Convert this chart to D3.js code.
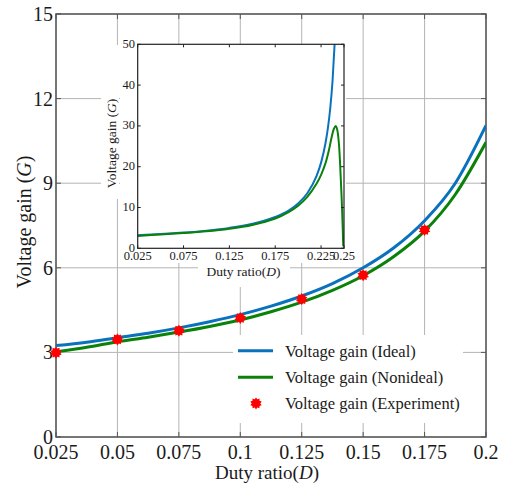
<!DOCTYPE html>
<html><head><meta charset="utf-8">
<script src="https://cdn.jsdelivr.net/npm/d3@7"></script>
<style>
body{margin:0;background:#fff}
svg{display:block}
text{font-family:"Liberation Serif","Times New Roman",serif;fill:#1a1a1a}
</style>
</head><body>
<svg id="c" width="507" height="484"></svg>
<script>
// ---- data ----
const mainD        = [0.025,0.0375,0.05,0.0625,0.075,0.0875,0.1,0.1125,0.125,0.1375,0.15,0.1625,0.175,0.1875,0.2];
const mainIdeal    = [3.24,3.36,3.52,3.68,3.87,4.09,4.34,4.64,5.0,5.44,6.0,6.71,7.67,9.0,11.05];
const mainNonideal = [3.02,3.18,3.38,3.54,3.72,3.92,4.15,4.44,4.78,5.2,5.72,6.4,7.3,8.6,10.45];
const expD = [0.025,0.05,0.075,0.1,0.125,0.15,0.175];
const expG = [2.99,3.46,3.77,4.22,4.89,5.74,7.34];

const insetIdealD = [0.025,0.05,0.075,0.1,0.125,0.15,0.175,0.19,0.2,0.21,0.22,0.225,0.23,0.2325,0.235,0.2375,0.24];
const insetIdealG = [3.22,3.5,3.86,4.33,5.0,6.0,7.67,9.33,11.0,13.5,17.67,21.0,26.0,29.57,34.33,41.0,51.0];
const insetNonD = [0.025,0.05,0.075,0.1,0.125,0.15,0.175,0.19,0.2,0.21,0.22,0.225,0.23,0.2335,0.2365,0.239,0.2409,0.2425,0.2445,0.2465,0.248,0.2492];
const insetNonG = [3.03,3.38,3.72,4.15,4.78,5.72,7.3,8.95,10.45,12.6,15.8,18.0,21.0,24.0,27.2,29.3,30.0,29.2,25.5,17.0,9.0,0.5];

const mainXTicks = [0.025,0.05,0.075,0.1,0.125,0.15,0.175,0.2];
const mainXTickLabels = ["0.025","0.05","0.075","0.1","0.125","0.15","0.175","0.2"];
const mainYTicks = [0,3,6,9,12,15];
const insetXTicks = [0.025,0.075,0.125,0.175,0.225,0.25];
const insetXTickLabels = ["0.025","0.075","0.125","0.175","0.225","0.25"];
const insetYTicks = [0,10,20,30,40,50];
const legendLabels = ["Voltage gain (Ideal)","Voltage gain (Nonideal)","Voltage gain (Experiment)"];

const BLUE = "#0a72bd", GREEN = "#0a820a", RED = "#ff0000";

const svg = d3.select("#c");
svg.append("rect").attr("width",507).attr("height",484).attr("fill","#fff");

// ---- main axes ----
const x = d3.scaleLinear().domain([0.025,0.2]).range([56,486]);
const y = d3.scaleLinear().domain([0,15]).range([437,14]);

const grid = svg.append("g").attr("stroke","#b4b4b4").attr("stroke-width",1);
mainXTicks.forEach(t=>grid.append("line").attr("x1",x(t)).attr("x2",x(t)).attr("y1",y(15)).attr("y2",y(0)));
mainYTicks.forEach(t=>grid.append("line").attr("x1",x(0.025)).attr("x2",x(0.2)).attr("y1",y(t)).attr("y2",y(t)));

// inner ticks
const tk = svg.append("g").attr("stroke","#555").attr("stroke-width",1);
mainXTicks.forEach(t=>{
  tk.append("line").attr("x1",x(t)).attr("x2",x(t)).attr("y1",y(0)).attr("y2",y(0)-5);
  tk.append("line").attr("x1",x(t)).attr("x2",x(t)).attr("y1",y(15)).attr("y2",y(15)+5);
});
mainYTicks.forEach(t=>{
  tk.append("line").attr("x1",x(0.025)).attr("x2",x(0.025)+5).attr("y1",y(t)).attr("y2",y(t));
  tk.append("line").attr("x1",x(0.2)).attr("x2",x(0.2)-5).attr("y1",y(t)).attr("y2",y(t));
});

svg.append("rect").attr("x",x(0.025)).attr("y",y(15)).attr("width",x(0.2)-x(0.025)).attr("height",y(0)-y(15))
  .attr("fill","none").attr("stroke","#555").attr("stroke-width",1.5);

// tick labels
mainXTicks.forEach((t,i)=>svg.append("text").attr("x",x(t)).attr("y",459).attr("text-anchor","middle")
  .attr("font-size",20).text(mainXTickLabels[i]));
mainYTicks.forEach(t=>svg.append("text").attr("x",53).attr("y",y(t)+7).attr("text-anchor","end")
  .attr("font-size",20).text(t));

// axis titles
const xt = svg.append("text").attr("x",267).attr("y",479).attr("text-anchor","middle").attr("font-size",19);
xt.append("tspan").text("Duty ratio(");
xt.append("tspan").attr("font-style","italic").text("D");
xt.append("tspan").text(")");
const yt = svg.append("text").attr("transform","translate(31,222) rotate(-90)").attr("text-anchor","middle").attr("font-size",20);
yt.append("tspan").text("Voltage gain (");
yt.append("tspan").attr("font-style","italic").text("G");
yt.append("tspan").text(")");

// main curves
svg.append("clipPath").attr("id","mclip").append("rect")
  .attr("x",x(0.025)).attr("y",y(15)).attr("width",x(0.2)-x(0.025)).attr("height",y(0)-y(15));
const mline = d3.line().x(d=>x(d[0])).y(d=>y(d[1])).curve(d3.curveMonotoneX);
const mc = svg.append("g").attr("clip-path","url(#mclip)");
mc.append("path").attr("d",mline(d3.zip(mainD,mainIdeal))).attr("fill","none").attr("stroke",BLUE).attr("stroke-width",3);
mc.append("path").attr("d",mline(d3.zip(mainD,mainNonideal))).attr("fill","none").attr("stroke",GREEN).attr("stroke-width",3);

// star marker path
function starPath(cx,cy,ro,ri,n){
  const pts=[];
  for(let k=0;k<2*n;k++){const a=Math.PI*k/n - Math.PI/2; const r=k%2?ri:ro; pts.push([cx+r*Math.cos(a),cy+r*Math.sin(a)]);}
  return "M"+pts.map(p=>p.join(",")).join("L")+"Z";
}
expD.forEach((d,i)=>svg.append("path").attr("d",starPath(x(d),y(expG[i]),6,4.3,10)).attr("fill",RED));

// ---- inset ----
const ix = d3.scaleLinear().domain([0.025,0.25]).range([137.7,344]);
const iy = d3.scaleLinear().domain([0,50]).range([248.3,44.3]);
svg.append("rect").attr("x",120).attr("y",44).attr("width",226).attr("height",219).attr("fill","#fff");
svg.append("rect").attr("x",101).attr("y",45).attr("width",18).attr("height",154).attr("fill","#fff");
svg.append("rect").attr("x",198).attr("y",263).attr("width",92).attr("height",24).attr("fill","#fff");

svg.append("clipPath").attr("id","iclip").append("rect")
  .attr("x",ix(0.025)).attr("y",iy(50)).attr("width",ix(0.25)-ix(0.025)).attr("height",iy(0)-iy(50));
const iline = d3.line().x(d=>ix(d[0])).y(d=>iy(d[1])).curve(d3.curveMonotoneX);
const ic = svg.append("g").attr("clip-path","url(#iclip)");
ic.append("path").attr("d",iline(d3.zip(insetIdealD,insetIdealG))).attr("fill","none").attr("stroke",BLUE).attr("stroke-width",2);
ic.append("path").attr("d",d3.line().x(d=>ix(d[0])).y(d=>iy(d[1])).curve(d3.curveCatmullRom)(d3.zip(insetNonD,insetNonG))).attr("fill","none").attr("stroke",GREEN).attr("stroke-width",2);

const itk = svg.append("g").attr("stroke","#222").attr("stroke-width",1);
insetXTicks.forEach(t=>{
  itk.append("line").attr("x1",ix(t)).attr("x2",ix(t)).attr("y1",iy(0)).attr("y2",iy(0)-3);
  itk.append("line").attr("x1",ix(t)).attr("x2",ix(t)).attr("y1",iy(50)).attr("y2",iy(50)+3);
});
insetYTicks.forEach(t=>{
  itk.append("line").attr("x1",ix(0.025)).attr("x2",ix(0.025)+3).attr("y1",iy(t)).attr("y2",iy(t));
  itk.append("line").attr("x1",ix(0.25)).attr("x2",ix(0.25)-3).attr("y1",iy(t)).attr("y2",iy(t));
});
svg.append("rect").attr("x",ix(0.025)).attr("y",iy(50)).attr("width",ix(0.25)-ix(0.025)).attr("height",iy(0)-iy(50))
  .attr("fill","none").attr("stroke","#222").attr("stroke-width",1.2);

insetXTicks.forEach((t,i)=>svg.append("text").attr("x",ix(t)).attr("y",260).attr("text-anchor","middle")
  .attr("font-size",12.5).text(insetXTickLabels[i]));
insetYTicks.forEach(t=>svg.append("text").attr("x",135).attr("y",iy(t)+3.5).attr("text-anchor","end")
  .attr("font-size",12.5).text(t));
const ixt = svg.append("text").attr("x",243.5).attr("y",276).attr("text-anchor","middle").attr("font-size",13.5);
ixt.append("tspan").text("Duty ratio(");
ixt.append("tspan").attr("font-style","italic").text("D");
ixt.append("tspan").text(")");
const iyt = svg.append("text").attr("transform","translate(115.5,143.5) rotate(-90)").attr("text-anchor","middle").attr("font-size",13.5);
iyt.append("tspan").text("Voltage gain (");
iyt.append("tspan").attr("font-style","italic").text("G");
iyt.append("tspan").text(")");

// ---- legend ----
const lg = svg.append("g");
lg.append("rect").attr("x",233).attr("y",335).attr("width",230).attr("height",88).attr("fill","#fff");
const rows=[350.7,377.2,403.4];
lg.append("line").attr("x1",238).attr("x2",273).attr("y1",rows[0]).attr("y2",rows[0]).attr("stroke",BLUE).attr("stroke-width",3);
lg.append("line").attr("x1",238).attr("x2",273).attr("y1",rows[1]).attr("y2",rows[1]).attr("stroke",GREEN).attr("stroke-width",3);
lg.append("path").attr("d",starPath(256,rows[2],6,4.3,10)).attr("fill",RED);
legendLabels.forEach((l,i)=>lg.append("text").attr("x",285).attr("y",rows[i]+6).attr("font-size",16.5).text(l));
</script>
</body></html>
